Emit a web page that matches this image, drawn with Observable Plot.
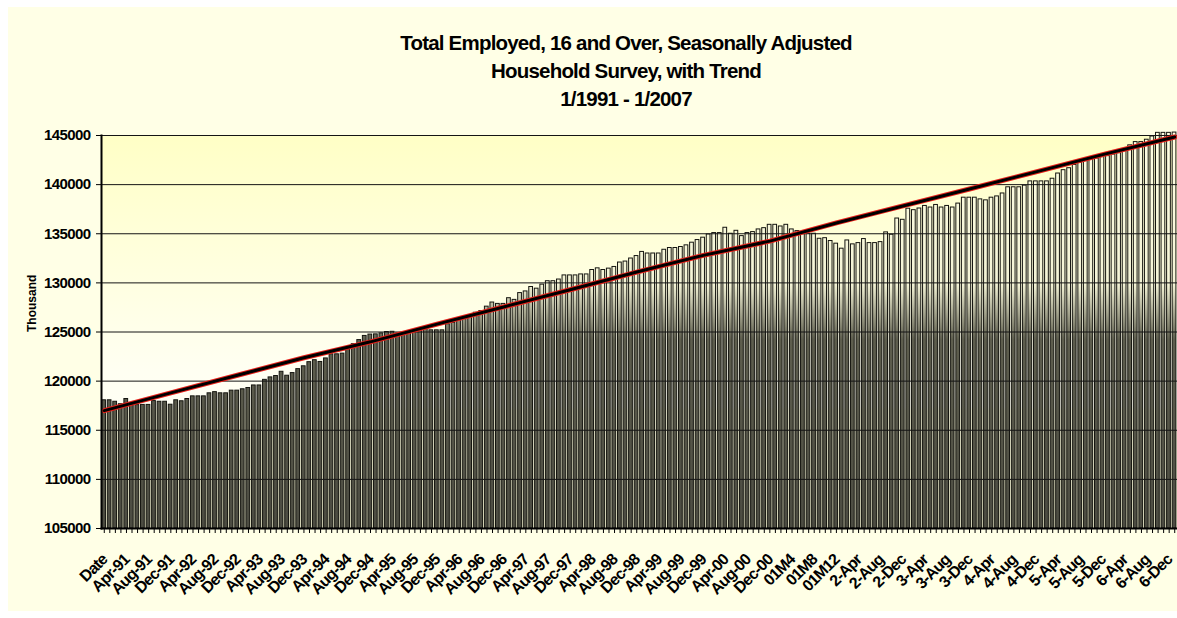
<!DOCTYPE html>
<html><head><meta charset="utf-8">
<script src="https://cdn.jsdelivr.net/npm/d3@7"></script>
<script src="https://cdn.jsdelivr.net/npm/@observablehq/plot@0.6"></script>
<style>
html,body{margin:0;padding:0;background:#fff;}
#wrap{position:relative;width:1177px;height:618px;overflow:hidden;background:#fff;}
#panel{position:absolute;left:8px;top:7px;width:1169px;height:604px;background:#FFFFE6;}
#title{position:absolute;left:0;top:29px;width:1252px;text-align:center;font-family:"Liberation Sans",Arial,sans-serif;font-weight:bold;font-size:20.5px;line-height:28px;letter-spacing:-0.8px;color:#000;}
#chart{position:absolute;left:0;top:115px;}
#chart svg text{font-weight:bold;}
#chart svg g[aria-label="y-axis tick label"] text{letter-spacing:-0.6px;}
#chart svg g.xlab text{letter-spacing:-0.8px;}
</style></head><body>
<div id="wrap">
  <div id="panel"></div>
  <div id="title">Total Employed, 16 and Over, Seasonally Adjusted<br>Household Survey, with Trend<br>1/1991 - 1/2007</div>
  <div id="chart"></div>
</div>
<script>
// Monthly values (thousands); index 0 is the "Date" row, then Jan-91 ... Jan-07
const employed = [
 118050,118050,117900,117650,118180,117520,117560,117580,117580,117970,117900,117900,117600,
 118050,117950,118180,118450,118450,118450,118760,118880,118760,118760,119030,119030,
 119170,119300,119560,119560,120130,120380,120520,120950,120550,120820,121220,121510,
 121930,122130,121950,122310,122730,122730,122800,123300,123760,124180,124600,124740,
 124760,124860,125000,125020,124850,124780,124900,125050,125250,125440,125170,125170,
 125170,125790,125930,126200,126480,126720,126960,127130,127580,128000,127860,127860,
 128440,128270,128960,129130,129580,129410,129820,130170,130170,130340,130760,130760,
 130760,130860,130860,131310,131480,131310,131450,131620,132070,132170,132480,132730,
 133150,132990,132990,132990,133370,133550,133550,133650,133820,134090,134360,134600,
 134930,135070,135070,135610,135000,135300,134760,135070,135170,135440,135570,135910,
 135910,135740,135910,135440,135270,135000,135000,135000,134490,134550,134260,133990,
 133480,134320,133920,134050,134460,134050,134050,134150,135140,134900,136550,136420,
 137550,137400,137570,137830,137670,137930,137670,137830,137670,138070,138670,138670,
 138670,138500,138400,138670,138800,139100,139730,139730,139730,139900,140330,140330,
 140330,140330,140600,141130,141470,141670,142000,142230,142400,142560,142660,142800,
 142900,143060,143200,143430,144000,144330,144330,144570,144900,145270,145270,145270,
 145300
];
// Trend line read at yearly points (category index -> value)
const trendIdx  = [0, 12, 24, 36, 48, 60, 72, 84, 96, 108, 120, 132, 144, 156, 168, 180, 193];
const trendVals = [117000,118800,120600,122380,124000,125800,127550,129300,131100,132800,134250,136100,137830,139550,141300,143050,144850];
// Category tick labels, every 4th category
const tickLabels = ["Date","Apr-91","Aug-91","Dec-91","Apr-92","Aug-92","Dec-92","Apr-93","Aug-93","Dec-93",
 "Apr-94","Aug-94","Dec-94","Apr-95","Aug-95","Dec-95","Apr-96","Aug-96","Dec-96","Apr-97","Aug-97","Dec-97",
 "Apr-98","Aug-98","Dec-98","Apr-99","Aug-99","Dec-99","Apr-00","Aug-00","Dec-00","01M4","01M8","01M12",
 "2-Apr","2-Aug","2-Dec","3-Apr","3-Aug","3-Dec","4-Apr","4-Aug","4-Dec","5-Apr","5-Aug","5-Dec","6-Apr","6-Aug","6-Dec"];
const yTicks = [105000,110000,115000,120000,125000,130000,135000,140000,145000];

const idx = d3.range(employed.length);
const tickIdx = tickLabels.map((_, i) => i * 4);
const trend = trendIdx.map((k, i) => ({k, v: trendVals[i]}));

const font = "'Liberation Sans', Arial, sans-serif";
const chart = Plot.plot({
  width: 1177, height: 495,
  marginLeft: 101, marginRight: 0, marginTop: 20, marginBottom: 82,
  style: {background: "transparent", fontFamily: font, overflow: "visible", color: "#000"},
  x: {type: "band", domain: idx, padding: 0, axis: null},
  y: {domain: [105000, 145000], axis: null},
  marks: [
    Plot.frame({fill: "url(#bgGrad)", stroke: null}),
    Plot.rectY(employed, {x: (d, i) => i, y1: 105000, y2: d => d, fill: "url(#barGrad)", stroke: "#151510", strokeWidth: 1, insetLeft: 0.7, insetRight: 1.1}),
    Plot.ruleY(yTicks, {stroke: "#151515", strokeWidth: 1}),
    Plot.line(trend, {x: "k", y: "v", stroke: "#e8201a", strokeWidth: 5}),
    Plot.line(trend, {x: "k", y: "v", stroke: "#000", strokeWidth: 3}),
    Plot.frame({anchor: "left", stroke: "#000", strokeWidth: 2}),
    Plot.frame({anchor: "bottom", stroke: "#000", strokeWidth: 2}),
    Plot.axisY({ticks: yTicks, tickSize: 5, tickPadding: 6, fontSize: 15, tickFormat: d => String(d), label: null, stroke: "#000"}),
    Plot.axisX({ticks: idx, tickSize: 5, tickFormat: () => "", label: null}),
    Plot.text(tickIdx, {x: d => d, text: (d, i) => tickLabels[i], frameAnchor: "bottom", dx: -4, dy: 24, rotate: -45, textAnchor: "end", lineAnchor: "top", fontSize: 16, className: "xlab"}),
    Plot.text(["Thousand"], {frameAnchor: "left", dx: -69, rotate: -90, fontSize: 12, text: d => d})
  ]
});
const ns = "http://www.w3.org/2000/svg";
const defs = document.createElementNS(ns, "defs");
defs.innerHTML = `
<linearGradient id="bgGrad" x1="0" y1="0" x2="0" y2="1">
  <stop offset="0" stop-color="#FFFFC6"/>
  <stop offset="0.6" stop-color="#FFFFF2"/>
  <stop offset="0.69" stop-color="#FFFFF4"/>
  <stop offset="0.70" stop-color="#FFFFE2"/>
  <stop offset="1" stop-color="#FFFFDC"/>
</linearGradient>
<linearGradient id="barGrad" gradientUnits="userSpaceOnUse" x1="0" y1="20" x2="0" y2="413">
  <stop offset="0" stop-color="#FFFFE2"/>
  <stop offset="0.38" stop-color="#F4F4D6"/>
  <stop offset="0.52" stop-color="#5e5e4e"/>
  <stop offset="1" stop-color="#4c4c42"/>
</linearGradient>`;
chart.insertBefore(defs, chart.firstChild);
document.getElementById("chart").appendChild(chart);
</script>
</body></html>
